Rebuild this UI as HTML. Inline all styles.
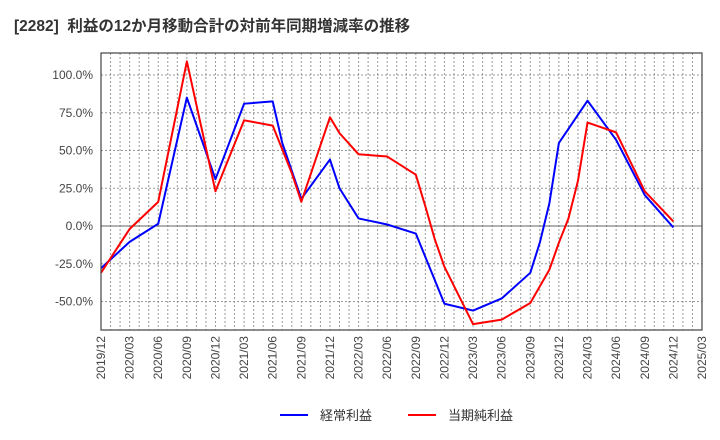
<!DOCTYPE html>
<html><head><meta charset="utf-8"><style>
body{margin:0;background:#fff;}
svg{display:block;font-family:"Liberation Sans","Noto Sans CJK JP",sans-serif;}
</style></head><body>
<svg id="chart" width="720" height="440">
<text x="14" y="31" font-size="15.5" font-weight="bold" fill="#333" style="white-space:pre">[2282]  利益の12か月移動合計の対前年同期増減率の推移</text>
<g id="grid"></g><g id="series"></g><g id="axes"></g>
<g>
<line x1="280" y1="415" x2="308" y2="415" stroke="#0000ff" stroke-width="2"/>
<text x="320" y="420" font-size="13" fill="#333">経常利益</text>
<line x1="408" y1="415" x2="436" y2="415" stroke="#ff0000" stroke-width="2"/>
<text x="448" y="420" font-size="13" fill="#333">当期純利益</text>
</g>
</svg>
<script>
const xLabels=["2019/12","2020/03","2020/06","2020/09","2020/12","2021/03","2021/06","2021/09","2021/12","2022/03","2022/06","2022/09","2022/12","2023/03","2023/06","2023/09","2023/12","2024/03","2024/06","2024/09","2024/12","2025/03"];
const yTicks=[-50,-25,0,25,50,75,100];
const yTickLabels=["-50.0%","-25.0%","0.0%","25.0%","50.0%","75.0%","100.0%"];
const ordinaryMonths=[0,3,6,9,12,15,18,19,21,24,25,27,30,33,36,39,42,45,46,47,48,51,54,57,60];
const ordinaryValues=[-28,-10.5,1.5,85,31,81,82.5,55,18,44,25,5,1,-5,-51.5,-56,-48,-31,-11,15,55,83,57,20.5,-1];
const netMonths=[0,3,6,9,12,15,18,20,21,24,25,27,30,33,34,35,36,39,42,45,46,47,48,49,50,51,54,57,60];
const netValues=[-31,-2,16,109,23,70,66.5,35,16,72,61.5,47.5,46,34,13,-9,-27,-65,-62,-51,-40,-29,-11,5,30,68.5,62,23,3];
const L=101,R=702,T=53,B=330;
const X=m=>L+(R-L)*m/63;
const Y=v=>226-1.51*v;
const ns="http://www.w3.org/2000/svg";
function mk(tag,attrs,parent){const e=document.createElementNS(ns,tag);for(const k in attrs)e.setAttribute(k,attrs[k]);parent.appendChild(e);return e;}
const grid=document.getElementById('grid'),axes=document.getElementById('axes'),series=document.getElementById('series');
for(let m=1;m<63;m++){
 const g=mk('line',{x1:X(m),x2:X(m),y1:T,y2:B,stroke:'#999','stroke-dasharray':'2,2'},grid);
 
 
}
yTicks.forEach((v,i)=>{
 const g=mk('line',{x1:L,x2:R,y1:Y(v),y2:Y(v),stroke:v===0?'#666':'#999','stroke-dasharray':v===0?'':'2,2'},grid);
 
 
 const t=mk('text',{x:93,y:Y(v)+4,'text-anchor':'end','font-size':12,fill:'#444'},axes);
 t.textContent=yTickLabels[i];
 
 
});
xLabels.forEach((s,i)=>{
 const x=X(i*3);
 const t=mk('text',{x:0,y:0,'text-anchor':'end','font-size':12,fill:'#444',transform:`translate(${x+4},${B+6}) rotate(-90)`},axes);
 t.textContent=s;
 
 
});
const frame=mk('rect',{x:L,y:T,width:R-L,height:B-T,fill:'none',stroke:'#444','stroke-width':1.2},axes);


function line(ms,vs,color,name){
 const p=mk('polyline',{points:ms.map((m,i)=>X(m)+','+Y(vs[i])).join(' '),fill:'none',stroke:color,'stroke-width':2,'stroke-linejoin':'round'},series);
 
 
}
line(ordinaryMonths,ordinaryValues,'#0000ff','ordinary-profit-line');
line(netMonths,netValues,'#ff0000','net-profit-line');
</script>
</body></html>
